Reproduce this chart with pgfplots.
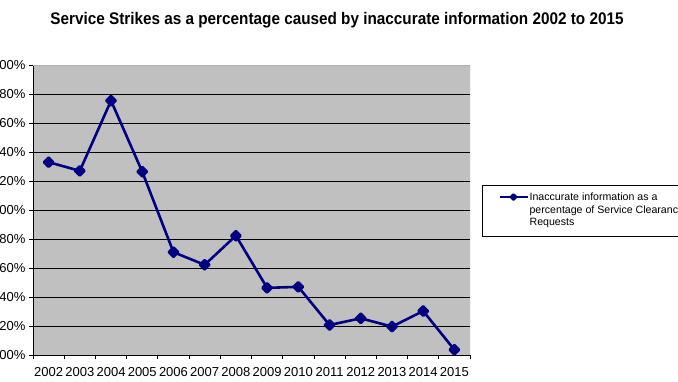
\documentclass[border=0pt]{standalone}
\usepackage{fontspec}
\setmainfont{Liberation Sans}
\usepackage{pgfplots}
\pgfplotsset{compat=1.18}
\definecolor{plotbg}{RGB}{192,192,192}
\definecolor{navyline}{RGB}{0,0,128}
\begin{document}
\begin{tikzpicture}[x=1pt,y=1pt]
\path[use as bounding box] (0,0) rectangle (678,381);
\node[font=\bfseries\fontsize{15.3}{18}\selectfont, anchor=base, inner sep=0pt] at (337,356)
  {\scalebox{1}[1.1]{Service Strikes as a percentage caused by inaccurate information 2002 to 2015}};
\begin{axis}[
  at={(33pt,26pt)}, anchor=south west,
  scale only axis, width=437pt, height=290pt,
  xmin=-0.5, xmax=13.5, ymin=0, ymax=2,
  /pgf/number format/assume math mode=true,
  xtick={0,1,2,3,4,5,6,7,8,9,10,11,12,13},
  xticklabels={2002,2003,2004,2005,2006,2007,2008,2009,2010,2011,2012,2013,2014,2015},
  major x tick style={draw=none},
  minor xtick={-0.5,0.5,1.5,2.5,3.5,4.5,5.5,6.5,7.5,8.5,9.5,10.5,11.5,12.5,13.5},
  ytick={0,0.2,0.4,0.6,0.8,1,1.2,1.4,1.6,1.8},
  extra y ticks={2},
  extra y tick style={grid=none},
  yticklabel={\pgfmathprintnumber[fixed,fixed zerofill,precision=2]{\tick}\%},
  tick align=outside, tick pos=left,
  major tick length=4pt, minor tick length=4pt,
  tick style={black, line width=0.8pt},
  ymajorgrids,
  grid style={black, line width=0.8pt},
  axis lines*=left,
  axis line style={black, line width=0.8pt},
  axis background/.style={fill=plotbg},
  ticklabel style={font=\fontsize{13}{15}\selectfont},
  xticklabel style={yshift=-5pt},
  legend style={at={(rel axis cs:1.02746,0.5862)}, anchor=north west,
    draw=black, line width=0.8pt, fill=white,
    inner xsep=16pt, inner ysep=6.5pt,
    font=\fontsize{10.6}{12.5}\selectfont,
    cells={anchor=base west},
    nodes={inner sep=0pt, text depth=, text height=},
    /tikz/every odd column/.style={column sep=1pt}},
  legend image code/.code={
    \draw[navyline, line width=2.2pt] (0pt,3.6pt) -- (28pt,3.6pt);
    \draw[navyline, fill=navyline] plot[mark=square*, mark size=1.8pt, mark options={rotate=45}] coordinates {(14pt,3.6pt)};
  },
]
\addplot[navyline, line width=2.6pt, line join=round, mark=square*, mark size=3.3pt,
  mark options={solid, fill=navyline, rotate=45}] coordinates {
  (0,1.33) (1,1.27) (2,1.754) (3,1.264) (4,0.709) (5,0.622) (6,0.823)
  (7,0.463) (8,0.47) (9,0.207) (10,0.253) (11,0.196) (12,0.303) (13,0.036)
};
\addlegendentry{\begin{tabular}[t]{@{}p{160pt}@{}}Inaccurate information as a\\percentage of Service Clearance\\Requests\end{tabular}}
\draw[gray!60!white, line width=0.8pt] (rel axis cs:0,1) -- (rel axis cs:1,1) -- (rel axis cs:1,0);
\end{axis}
\end{tikzpicture}
\end{document}
